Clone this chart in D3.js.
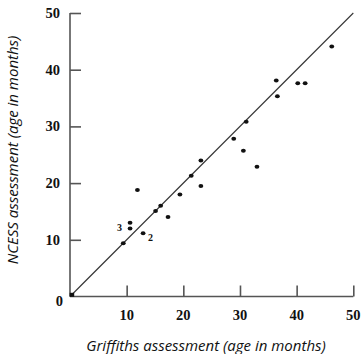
<!DOCTYPE html>
<html><head><meta charset="utf-8">
<script src="https://cdn.jsdelivr.net/npm/d3@7"></script>
<style>body{margin:0;background:#fff}</style>
</head><body>
<svg id="c" width="364" height="354"></svg>
<script>
const griffiths = [11.9,10.6,10.6,12.9,9.4,15.1,16.0,17.3,19.4,21.4,23.1,23.1,28.9,30.6,31.1,33.0,36.4,36.6,40.2,41.5,46.2];
const ncess     = [18.8,13.0,12.0,11.15,9.4,15.1,16.0,14.0,18.0,21.3,24.0,19.5,27.8,25.7,30.8,22.9,38.1,35.3,37.6,37.6,44.1];
const xTicks = [10,20,30,40,50];
const yTicks = [10,20,30,40,50];
const annotations = [{x:10.6,y:12.0,t:"3",side:"left"},{x:12.9,y:11.15,t:"2",side:"right"}];
const origin = [0.3,0.3];

const svg = d3.select("#c");
const x = d3.scaleLinear().domain([0,50]).range([70,353.3]);
const y = d3.scaleLinear().domain([0,50]).range([296.5,13]);
const axisColor = "#555";
const numFont = "'Liberation Serif', 'Times New Roman', serif";
const titleFont = "'Open Sans', 'DejaVu Sans', sans-serif";

// y axis
const ya = svg.append("g").attr("transform",`translate(${x(0)},0)`)
  .call(d3.axisRight(y).tickValues(yTicks).tickSize(11).tickFormat(""));
ya.select(".domain").attr("d",`M0,${y(50)}V${y(0)}`);
// x axis
const xa = svg.append("g").attr("transform",`translate(0,${y(0)})`)
  .call(d3.axisTop(x).tickValues(xTicks).tickSize(11).tickFormat(""));
xa.select(".domain").attr("d",`M${x(0)},0H${x(50)}`);
svg.selectAll(".domain, .tick line").attr("stroke",axisColor).attr("stroke-width",1.6);

// tick labels
svg.append("g").selectAll("text").data(yTicks).join("text")
  .attr("x",x(0)-10).attr("y",d=>y(d)+5).attr("text-anchor","end")
  .attr("font-family",numFont).attr("font-weight","bold").attr("font-size",14.5).attr("fill","#111")
  .text(d=>d);
svg.append("g").selectAll("text").data(xTicks).join("text")
  .attr("x",d=>x(d)).attr("y",y(0)+23.5).attr("text-anchor","middle")
  .attr("font-family",numFont).attr("font-weight","bold").attr("font-size",14.5).attr("fill","#111")
  .text(d=>d);
svg.append("text").attr("x",x(0)-7).attr("y",y(0)+9.5).attr("text-anchor","end")
  .attr("font-family",numFont).attr("font-weight","bold").attr("font-size",14.5).attr("fill","#111").text("0");

// diagonal
svg.append("line").attr("x1",x(0)).attr("y1",y(0)).attr("x2",x(50)).attr("y2",y(50))
  .attr("stroke","#333").attr("stroke-width",1.1);

// points
svg.append("g").selectAll("ellipse").data(griffiths.map((g,i)=>[g,ncess[i]])).join("ellipse")
  .attr("cx",d=>x(d[0])).attr("cy",d=>y(d[1])).attr("rx",2.4).attr("ry",2).attr("fill","#111");
svg.append("rect").attr("x",x(origin[0])-2).attr("y",y(origin[1])-2).attr("width",4.5).attr("height",4)
  .attr("fill","#111");

// annotations
svg.append("g").selectAll("text").data(annotations).join("text")
  .attr("x",d=>d.side==="left"?x(d.x)-8:x(d.x)+5).attr("y",d=>d.side==="left"?y(d.y)+3:y(d.y)+8)
  .attr("text-anchor",d=>d.side==="left"?"end":"start")
  .attr("font-family",numFont).attr("font-weight","bold").attr("font-size",10).attr("fill","#111")
  .text(d=>d.t);

// axis titles
svg.append("text").attr("x",206).attr("y",351).attr("text-anchor","middle")
  .attr("font-family",titleFont).attr("font-style","italic").attr("font-size",15).attr("fill","#111")
  .text("Griffiths assessment (age in months)");
svg.append("text").attr("transform","translate(18,150) rotate(-90)").attr("text-anchor","middle")
  .attr("font-family",titleFont).attr("font-style","italic").attr("font-size",15).attr("fill","#111")
  .text("NCESS assessment (age in months)");
</script>
</body></html>
